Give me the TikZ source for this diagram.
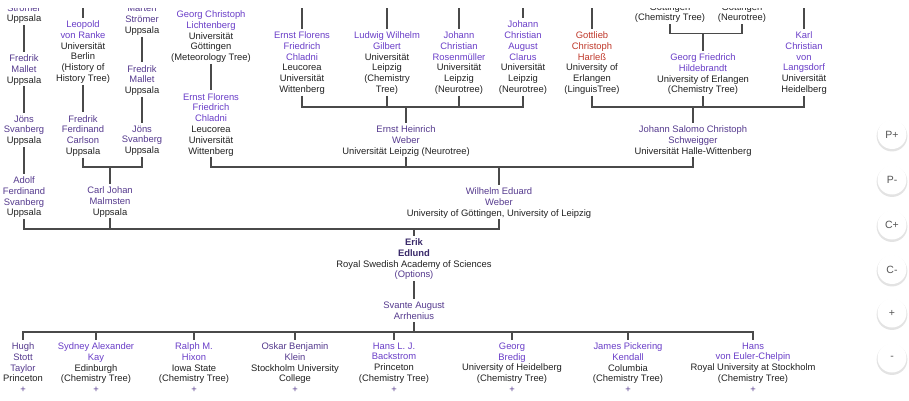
\documentclass[tikz,border=0pt]{standalone}
\usepackage{fontspec}
\setmainfont{Liberation Sans}
\usetikzlibrary{shadows}
\definecolor{nb}{HTML}{6A3EC8}
\definecolor{nd}{HTML}{553A8E}
\definecolor{nr}{HTML}{C0392B}
\definecolor{ne}{HTML}{3A2A6A}
\definecolor{tx}{HTML}{222222}
\definecolor{ln}{HTML}{4A4A4A}
\definecolor{bt}{HTML}{555555}
\newcommand\NB[1]{\textcolor{nb}{#1}}
\newcommand\ND[1]{\textcolor{nd}{#1}}
\newcommand\NR[1]{\textcolor{nr}{#1}}
\newcommand\fs{\fontsize{9.4}{10.8}\selectfont}
\tikzset{
 pn/.style={align=center, anchor=north, inner sep=0pt, outer sep=0pt, font=\fs, text=tx, execute at begin node=\strut, execute at end node=\strut},
 link/.style={draw=ln, line width=1.4pt},
 btn/.style={circle, minimum size=29pt, inner sep=0pt, fill=white, draw=none, drop shadow={opacity=0.22, shadow xshift=0pt, shadow yshift=-1.5pt, shadow scale=1.06}, font=\fontsize{10.5}{12}\selectfont, text=bt},
}
\begin{document}
\begin{tikzpicture}[x=1pt,y=-1pt]
\useasboundingbox (0,0) rectangle (909,401);
\fill[white] (0,0) rectangle (909,401);
\begin{scope}
\clip (0,8.5) rectangle (909,401);
% column A
\node[pn] (a1) at (24,4.5) {\ND{Strömer}\\Uppsala};
\node[pn] (a2) at (24,54.7) {\ND{Fredrik}\\\ND{Mallet}\\Uppsala};
\node[pn] (a3) at (24,115.7) {\ND{Jöns}\\\ND{Svanberg}\\Uppsala};
\node[pn] (a4) at (24,176.7) {\ND{Adolf}\\\ND{Ferdinand}\\\ND{Svanberg}\\Uppsala};
% column B
\coordinate (tb1) at (83,0);
\node[pn] (b1) at (83,20.7) {\NB{Leopold}\\\NB{von Ranke}\\Universität\\Berlin\\(History of\\History Tree)};
\node[pn] (b2) at (83,115.2) {\ND{Fredrik}\\\ND{Ferdinand}\\\ND{Carlson}\\Uppsala};
% column C
\node[pn] (c0) at (142,4.4) {\ND{Mårten}\\\ND{Strömer}\\Uppsala};
\node[pn] (c2) at (142,65.2) {\ND{Fredrik}\\\ND{Mallet}\\Uppsala};
\node[pn] (c3) at (142,125.7) {\ND{Jöns}\\\ND{Svanberg}\\Uppsala};
\node[pn] (cj) at (110,186.7) {\ND{Carl Johan}\\\ND{Malmsten}\\Uppsala};
% column D
\coordinate (td1) at (211,0);
\node[pn] (d1) at (211,10.7) {\NB{Georg Christoph}\\\NB{Lichtenberg}\\Universität\\Göttingen\\(Meteorology Tree)};
\node[pn] (d2) at (211,93.2) {\NB{Ernst Florens}\\\NB{Friedrich}\\\NB{Chladni}\\Leucorea\\Universität\\Wittenberg};
% Ernst Heinrich Weber's teachers
\coordinate (te1) at (302,0);
\coordinate (te2) at (387,0);
\coordinate (te3) at (459,0);
\coordinate (te4) at (523,0);
\node[pn] (e1) at (302,31.7) {\NB{Ernst Florens}\\\NB{Friedrich}\\\NB{Chladni}\\Leucorea\\Universität\\Wittenberg};
\node[pn] (e2) at (387,31.7) {\NB{Ludwig Wilhelm}\\\NB{Gilbert}\\Universität\\Leipzig\\(Chemistry\\Tree)};
\node[pn] (e3) at (459,31.7) {\NB{Johann}\\\NB{Christian}\\\NB{Rosenmüller}\\Universität\\Leipzig\\(Neurotree)};
\node[pn] (e4) at (523,20.9) {\NB{Johann}\\\NB{Christian}\\\NB{August}\\\NB{Clarus}\\Universität\\Leipzig\\(Neurotree)};
\node[pn] (ew) at (406,125.7) {\ND{Ernst Heinrich}\\\ND{Weber}\\Universität Leipzig (Neurotree)};
% Schweigger's teachers
\node[pn] (g1) at (670,3.2) {Göttingen\\(Chemistry Tree)};
\node[pn] (g2) at (742,3.2) {Göttingen\\(Neurotree)};
\coordinate (th1) at (592,0);
\coordinate (th3) at (804,0);
\node[pn] (h1) at (592,31.7) {\NR{Gottlieb}\\\NR{Christoph}\\\NR{Harleß}\\University of\\Erlangen\\(LinguisTree)};
\node[pn] (h2) at (703,53.7) {\NB{Georg Friedrich}\\\NB{Hildebrandt}\\University of Erlangen\\(Chemistry Tree)};
\node[pn] (h3) at (804,31.7) {\NB{Karl}\\\NB{Christian}\\\NB{von}\\\NB{Langsdorf}\\Universität\\Heidelberg};
\node[pn] (sc) at (693,125.7) {\ND{Johann Salomo Christoph}\\\ND{Schweigger}\\Universität Halle-Wittenberg};
% lower part
\node[pn] (ww) at (499,187.7) {\ND{Wilhelm Eduard}\\\ND{Weber}\\University of Göttingen, University of Leipzig};
\node[pn] (ed) at (414,238.7) {\textcolor{ne}{\bfseries Erik}\\\textcolor{ne}{\bfseries Edlund}\\Royal Swedish Academy of Sciences\\\ND{(Options)}};
\node[pn] (ar) at (414,301.7) {\ND{Svante August}\\\ND{Arrhenius}};
\node[pn] (s1) at (23,342.7) {\ND{Hugh}\\\ND{Stott}\\\ND{Taylor}\\Princeton\\\ND{+}};
\node[pn] (s2) at (96,342.7) {\NB{Sydney Alexander}\\\NB{Kay}\\Edinburgh\\(Chemistry Tree)\\\ND{+}};
\node[pn] (s3) at (194,342.7) {\NB{Ralph M.}\\\NB{Hixon}\\Iowa State\\(Chemistry Tree)\\\ND{+}};
\node[pn] (s4) at (295,342.7) {\ND{Oskar Benjamin}\\\ND{Klein}\\Stockholm University\\College\\\ND{+}};
\node[pn] (s5) at (394,342.7) {\NB{Hans L. J.}\\\NB{Backstrom}\\Princeton\\(Chemistry Tree)\\\ND{+}};
\node[pn] (s6) at (512,342.7) {\NB{Georg}\\\NB{Bredig}\\University of Heidelberg\\(Chemistry Tree)\\\ND{+}};
\node[pn] (s7) at (628,342.7) {\NB{James Pickering}\\\NB{Kendall}\\Columbia\\(Chemistry Tree)\\\ND{+}};
\node[pn] (s8) at (753,342.7) {\NB{Hans}\\\NB{von Euler-Chelpin}\\Royal University at Stockholm\\(Chemistry Tree)\\\ND{+}};
% bar levels
\coordinate (yA) at (0,33.5);
\coordinate (yB) at (0,107);
\coordinate (yC) at (0,167);
\coordinate (yD) at (0,229);
\coordinate (yE) at (0,332);
% connectors
\draw[link] (a1.south) -- ([yshift=3pt]a2.north);
\draw[link] (a2.south) -- ([yshift=3pt]a3.north);
\draw[link] (a3.south) -- ([yshift=3pt]a4.north);
\draw[link] (tb1) -- ([yshift=3pt]b1.north);
\draw[link] (b1.south) -- ([yshift=3pt]b2.north);
\draw[link] (c0.south) -- ([yshift=3pt]c2.north);
\draw[link] (c2.south) -- ([yshift=3pt]c3.north);
\draw[link] (b2.south) |- (yC -| c3.south) -- (c3.south);
\draw[link] (yC -| cj.north) -- ([yshift=3pt]cj.north);
\draw[link] (td1) -- ([yshift=3pt]d1.north);
\draw[link] (d1.south) -- ([yshift=3pt]d2.north);
\draw[link] (te1) -- ([yshift=3pt]e1.north);
\draw[link] (te2) -- ([yshift=3pt]e2.north);
\draw[link] (te3) -- ([yshift=3pt]e3.north);
\draw[link] (te4) -- ([yshift=3pt]e4.north);
\draw[link] (e1.south) |- (yB -| e4.south) -- (e4.south);
\draw[link] (e2.south) -- (e2.south |- yB);
\draw[link] (e3.south) -- (e3.south |- yB);
\draw[link] (yB -| ew.north) -- ([yshift=3pt]ew.north);
\draw[link] (g1.south) |- (yA -| g2.south) -- (g2.south);
\draw[link] (yA -| h2.north) -- ([yshift=3pt]h2.north);
\draw[link] (th1) -- ([yshift=3pt]h1.north);
\draw[link] (th3) -- ([yshift=3pt]h3.north);
\draw[link] (h1.south) |- (yB -| h3.south) -- (h3.south);
\draw[link] (h2.south) -- (h2.south |- yB);
\draw[link] (yB -| sc.north) -- ([yshift=3pt]sc.north);
\draw[link] (d2.south) |- (yC -| sc.south) -- (sc.south);
\draw[link] (ew.south) -- (ew.south |- yC);
\draw[link] (yC -| ww.north) -- ([yshift=3pt]ww.north);
\draw[link] (a4.south) |- (yD -| ww.south) -- (ww.south);
\draw[link] (cj.south) -- (cj.south |- yD);
\draw[link] (yD -| ed.north) -- ([yshift=3pt]ed.north);
\draw[link] (ed.south) -- ([yshift=3pt]ar.north);
\draw[link] (ar.south) -- (ar.south |- yE);
\draw[link] ([yshift=3pt]s1.north) |- (yE -| s8.north) -- ([yshift=3pt]s8.north);
\foreach \s in {s2,s3,s4,s5,s6,s7} \draw[link] (yE -| \s.north) -- ([yshift=3pt]\s.north);
\end{scope}
% side buttons
\node[btn] (bp1) at (892,134.5) {P+};
\node[btn] (bp2) at (892,180) {P-};
\node[btn] (bc1) at (892,225) {C+};
\node[btn] (bc2) at (892,269.5) {C-};
\node[btn] (bz1) at (892,313) {+};
\node[btn] (bz2) at (892,358) {-};
\end{tikzpicture}
\end{document}
